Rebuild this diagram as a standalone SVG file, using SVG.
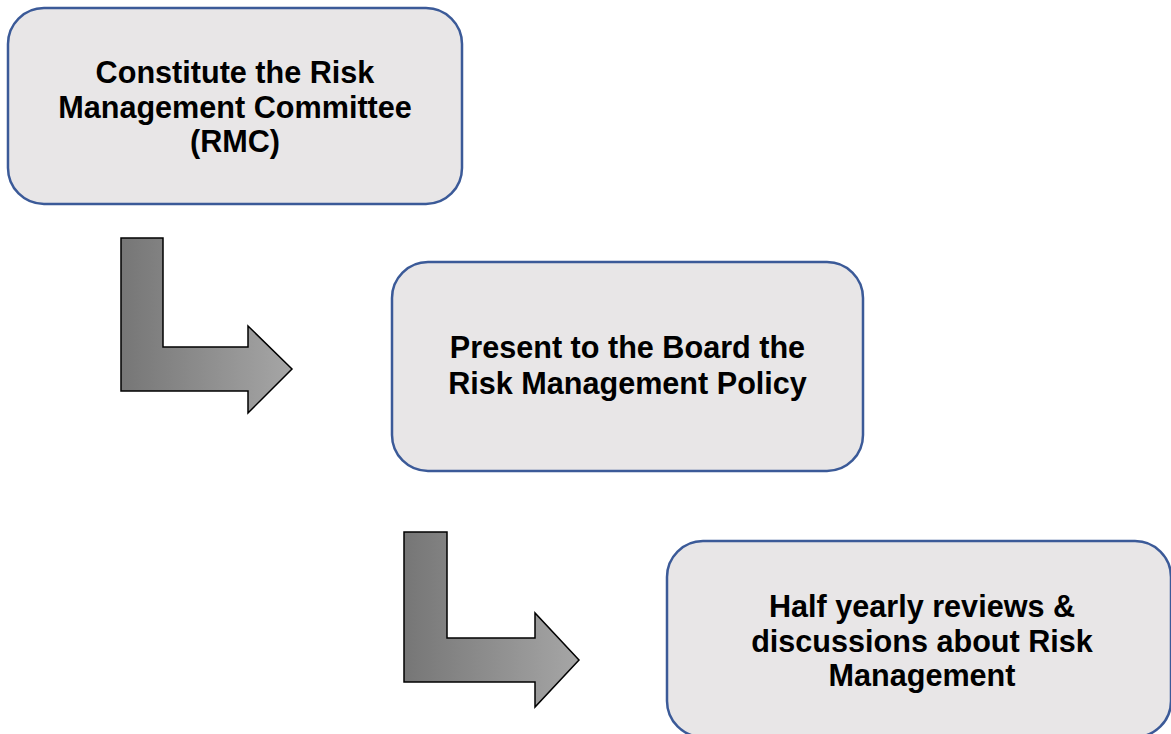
<svg xmlns="http://www.w3.org/2000/svg" width="1171" height="734" viewBox="0 0 1171 734">
<defs>
<linearGradient id="ag" x1="0" y1="0" x2="1" y2="0">
<stop offset="0" stop-color="#767676"/>
<stop offset="1" stop-color="#A6A6A6"/>
</linearGradient>
<style>
.box{fill:#E8E6E7;stroke:#3B5A98;stroke-width:2.5}
.arr{fill:url(#ag);stroke:#000;stroke-width:1.5;stroke-linejoin:miter}
.t{font-family:"Liberation Sans",Arial,sans-serif;font-weight:bold;font-size:30.6px;fill:#000;text-anchor:middle}
</style>
</defs>
<rect width="1171" height="734" fill="#fff"/>
<g id="connectors">
<path class="arr" d="M121,238 L163,238 L163,347 L248,347 L248,326 L292,369 L248,413 L248,391 L121,391 Z"/>
<path class="arr" d="M404,532 L447,532 L447,638 L535,638 L535,613 L579,660 L535,707 L535,682 L404,682 Z"/>
</g>
<g id="node1">
<rect class="box" x="8" y="8" width="454" height="196" rx="36"/>
<text class="t" x="235" y="83">Constitute the Risk</text>
<text class="t" x="235" y="117.5">Management Committee</text>
<text class="t" x="235" y="152">(RMC)</text>
</g>
<g id="node2">
<rect class="box" x="392" y="262" width="471" height="209" rx="36"/>
<text class="t" x="627.5" y="358">Present to the Board the</text>
<text class="t" x="627.5" y="394">Risk Management Policy</text>
</g>
<g id="node3">
<rect class="box" x="667" y="541" width="504" height="196" rx="36"/>
<text class="t" x="922" y="617">Half yearly reviews &amp;</text>
<text class="t" x="922" y="651.5">discussions about Risk</text>
<text class="t" x="922" y="686">Management</text>
</g>
</svg>
